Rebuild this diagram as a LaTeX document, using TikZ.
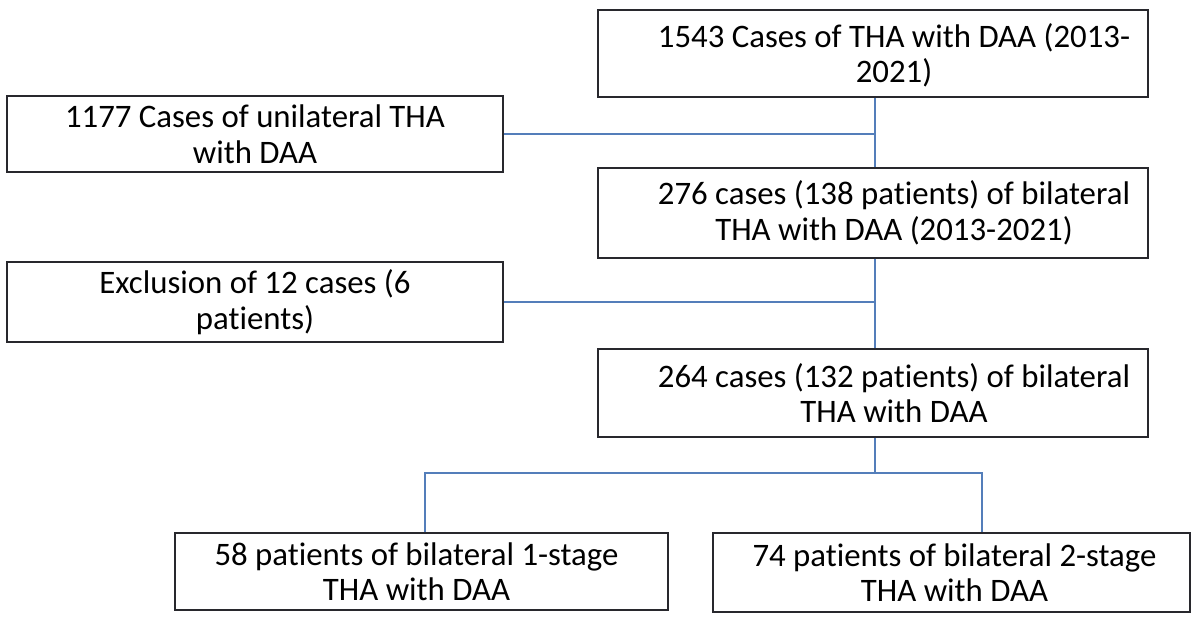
\documentclass[tikz,border=0pt]{standalone}
\usepackage{fontspec}
\setmainfont{Carlito}[Ligatures=NoCommon]
\usetikzlibrary{positioning}
\definecolor{linkblue}{RGB}{84,126,186}
\definecolor{frame}{RGB}{40,40,45}

\begin{document}
\begin{tikzpicture}[x=1pt, y=-1pt,
	frbox/.style={draw=frame, line width=1.4pt, minimum width=#1, inner sep=0pt},
	boxtext/.style={align=center, inner sep=0pt, font=\fontsize{32.8}{35.5}\selectfont},
	link/.style={draw=linkblue, line width=1.2pt}]
			%%%%% START %%%%%
			\useasboundingbox (0,0) rectangle (1200,623);
			
			% right column
			\node[frbox=550, minimum height=87] (all) at (873, 53.5) {};
			\node[boxtext] (allt) at ([xshift=21,yshift=-2]all.center) {1543 Cases of THA with DAA (2013-\\2021)};
			
			\node[frbox=550, minimum height=90] (bil) at (873, 213) {};
			\node[boxtext] (bilt) at ([xshift=21]bil.center) {276 cases (138 patients) of bilateral\\THA with DAA (2013-2021)};
			
			\node[frbox=550, minimum height=88] (incl) at (873, 393) {};
			\node[boxtext] (inclt) at ([xshift=21]incl.center) {264 cases (132 patients) of bilateral\\THA with DAA};
			
			% left column
			\node[frbox=496, minimum height=76] (uni) at (255, 134) {};
			\node[boxtext] (unit) at (uni.center) {1177 Cases of unilateral THA\\with DAA};
			
			\node[frbox=496, minimum height=80] (excl) at (255, 302) {};
			\node[boxtext] (exclt) at (excl.center) {Exclusion of 12 cases (6\\patients)};
			
			% bottom row
			\node[frbox=493, minimum height=77] (one) at (421.5, 571.5) {};
			\node[boxtext] (onet) at ([xshift=-5]one.center) {58 patients of bilateral 1-stage\\THA with DAA};
			
			\node[frbox=477, minimum height=79] (two) at (951.5, 572.5) {};
			\node[boxtext] (twot) at ([xshift=3]two.center) {74 patients of bilateral 2-stage\\THA with DAA};
			
			% connectors
			\coordinate (spine) at (875, 0);
			\draw[link] (all.south -| spine) -- (bil.north -| spine);
			\draw[link] (uni.east) -- (uni.east -| spine);
			\draw[link] (bil.south -| spine) -- (incl.north -| spine);
			\draw[link] (excl.east) -- (excl.east -| spine);
			
			\coordinate (fork) at (875, 473);
			\coordinate (kl) at (425, 473);
			\coordinate (kr) at (982, 473);
			\draw[link] (incl.south -| spine) -- (fork);
			\draw[link] (kl |- one.north) -- (kl) -- (kr) -- (kr |- two.north);
			%%%%% END %%%%%
\end{tikzpicture}
\end{document}
